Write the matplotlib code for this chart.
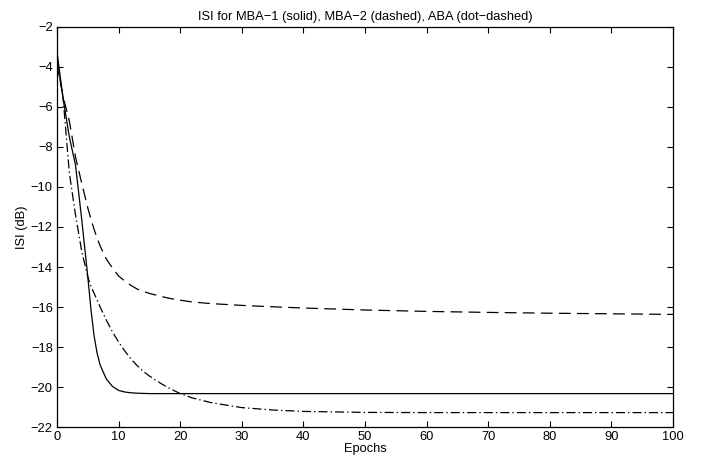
import matplotlib
matplotlib.use("Agg")
import matplotlib.pyplot as plt
import numpy as np

plt.rcParams['font.family'] = ['Liberation Sans', 'DejaVu Sans']
plt.rcParams['lines.scale_dashes'] = False

# epochs at which the curves were read
epochs = [0, 1, 2, 3, 4, 5, 5.5, 6, 6.5, 7, 8, 9, 10, 11, 12, 13, 14, 15, 16, 17, 18, 19, 20,
          22, 25, 30, 35, 40, 50, 60, 70, 80, 90, 100]

# MBA-1 (solid)
isi_mba1 = [-3.25, -5.6, -7.5, -8.9, -11.6, -14.5, -16.1, -17.4, -18.3, -18.9, -19.6, -19.97,
            -20.17, -20.25, -20.29, -20.31, -20.32, -20.33, -20.33, -20.33, -20.33, -20.33, -20.33,
            -20.33, -20.33, -20.33, -20.33, -20.33, -20.33, -20.33, -20.33, -20.33, -20.33, -20.33]

# MBA-2 (dashed)
isi_mba2 = [-3.9, -5.5, -6.7, -8.5, -9.8, -11.05, -11.6, -12.1, -12.55, -12.95, -13.6, -14.05,
            -14.45, -14.7, -14.92, -15.1, -15.22, -15.32, -15.4, -15.48, -15.55, -15.61, -15.66,
            -15.75, -15.83, -15.92, -15.99, -16.05, -16.15, -16.22, -16.27, -16.31, -16.34, -16.37]

# ABA (dot-dashed)
isi_aba = [-3.7, -5.6, -9.3, -11.4, -13.2, -14.5, -14.95, -15.3, -15.65, -16.0, -16.65, -17.25,
           -17.75, -18.2, -18.6, -18.93, -19.22, -19.45, -19.65, -19.85, -20.02, -20.18, -20.33,
           -20.55, -20.78, -21.03, -21.15, -21.22, -21.27, -21.28, -21.28, -21.28, -21.28, -21.28]

fig = plt.figure(figsize=(7.04, 4.59), dpi=100)
ax = fig.add_axes([0.081, 0.0697, 0.875, 0.8715])

ax.plot(epochs, isi_mba1, color='black', linewidth=0.9, linestyle='-')
ax.plot(epochs, isi_mba2, color='black', linewidth=0.9, linestyle=(0, (8.5, 4.5)))
ax.plot(epochs, isi_aba, color='black', linewidth=0.9, linestyle=(0, (6.5, 2.2, 1.0, 2.2)))

ax.set_xlim(0, 100)
ax.set_ylim(-22, -2)
ax.set_xticks(np.arange(0, 101, 10))
ax.set_yticks(np.arange(-22, -1, 2))

ax.tick_params(direction='in', top=True, right=True, length=4, width=0.8, labelsize=9.3, pad=3)
for s in ax.spines.values():
    s.set_linewidth(0.9)

ax.set_xlabel("Epochs", fontsize=9.3, labelpad=0)
ax.set_ylabel("ISI (dB)", fontsize=9.3, labelpad=2)
ax.set_title("ISI for MBA\u22121 (solid), MBA\u22122 (dashed), ABA (dot\u2212dashed)", fontsize=9.3, pad=5)

fig.savefig("out.png", dpi=100)
